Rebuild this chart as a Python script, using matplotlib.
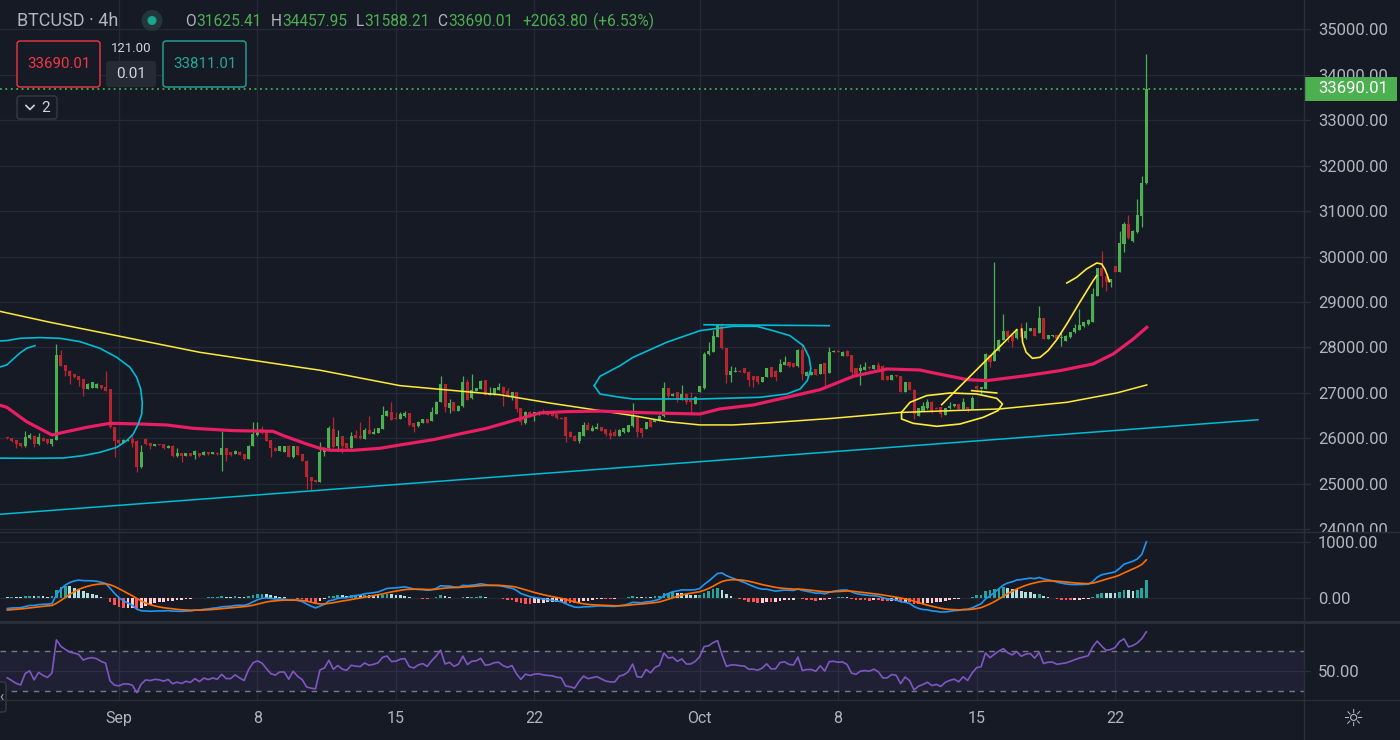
import numpy as np
import matplotlib
matplotlib.use("Agg")
import matplotlib.pyplot as plt
from matplotlib.patches import Rectangle, FancyBboxPatch, Circle
from matplotlib.transforms import blended_transform_factory, Bbox, TransformedBbox

plt.rcParams['font.family'] = ['Roboto', 'DejaVu Sans']

# BTCUSD 4h candles, index 0 = first visible bar
opens = [
    26024, 26002, 25966, 25899, 25826, 26002, 26061, 25877, 26017, 25988,
    25870, 25973, 27835, 27615, 27491, 27417, 27366, 27307, 27087, 27109,
    27117, 27175, 27124, 27087, 26244, 25973, 25899, 25944, 25988, 25951,
    25364, 25988, 25899, 25841, 25877, 25877, 25797, 25841, 25621, 25672,
    25621, 25672, 25635, 25672, 25635, 25694, 25665, 25680, 25635, 25782,
    25694, 25665, 25709, 25650, 25547, 25841, 26075, 26208, 26171, 25966,
    25797, 25731, 25709, 25841, 25584, 25826, 25650, 25511, 25144, 25086,
    25049, 25709, 25782, 26208, 25826, 26046, 25899, 25797, 26075, 26061,
    25988, 26193, 26098, 26120, 26208, 26501, 26589, 26442, 26427, 26486,
    26559, 26339, 26266, 26339, 26427, 26383, 26537, 26794, 27190, 26677,
    26794, 26611, 26706, 27234, 26882, 27051, 27087, 27278, 26955, 26955,
    27065, 27139, 27051, 26941, 27014, 26662, 26339, 26589, 26501, 26523,
    26603, 26589, 26589, 26530, 26457, 26464, 26134, 26061, 25951, 26061,
    26295, 26171, 26208, 26251, 26208, 26120, 26134, 26061, 26134, 26149,
    26266, 26501, 26222, 26208, 26413, 26354, 26391, 26486, 27102, 26941,
    27014, 26853, 26985, 26853, 26757, 27029, 27102, 27850, 27894, 28224,
    28495, 27982, 27395, 27454, 27491, 27542, 27469, 27366, 27366, 27249,
    27344, 27564, 27491, 27454, 27615, 27674, 27652, 27586, 27953, 27381,
    27400, 27527, 27417, 27659, 27439, 27894, 27931, 27821, 27931, 27835,
    27542, 27491, 27513, 27579, 27527, 27615, 27601, 27366, 27293, 27395,
    27366, 27029, 27234, 27073, 26501, 26611, 26663, 26809, 26677, 26685,
    26516, 26663, 26707, 26758, 26648, 26685, 26648, 27161, 27087, 27087,
    27836, 27711, 27931, 28173, 28371, 28276, 28202, 28408, 28202, 28364,
    28422, 28320, 28642, 28188, 28246, 28276, 28202, 28151, 28224, 28334,
    28393, 28466, 28510, 28569, 29141, 29742, 29583, 29434, 29786, 29655,
    30278, 30718, 30351, 30534, 30900, 31625.41]
highs = [
    26040, 26010, 25970, 25900, 26171, 26112, 26075, 26112, 26030, 25995,
    25995, 28070, 27953, 27620, 27495, 27420, 27370, 27310, 27220, 27250,
    27210, 27180, 27491, 27090, 26250, 25980, 25990, 25985, 26083, 25960,
    25855, 26000, 25905, 25880, 25880, 25880, 25845, 25845, 25782, 25680,
    25680, 25680, 25740, 25680, 25715, 25700, 25700, 25690, 26171, 25790,
    25700, 25740, 25715, 25655, 25845, 26354, 26370, 26262, 26180, 25970,
    25800, 25830, 25830, 25845, 25830, 25830, 25655, 25515, 25150, 25090,
    25914, 25800, 26281, 26464, 26193, 26050, 25905, 26134, 26193, 26354,
    26222, 26486, 26222, 26230, 26706, 26620, 26794, 26574, 26589, 26611,
    26565, 26345, 26375, 26435, 26432, 26684, 26815, 27366, 27195, 26867,
    26800, 26725, 27381, 27307, 27417, 27115, 27280, 27285, 27124, 27115,
    27212, 27145, 27102, 27020, 27020, 26668, 26595, 26595, 26580, 26595,
    26647, 26595, 26595, 26535, 26465, 26470, 26171, 26065, 26140, 26369,
    26369, 26295, 26339, 26255, 26212, 26208, 26208, 26200, 26230, 26300,
    26779, 26510, 26230, 26360, 26420, 26435, 26510, 27234, 27110, 26990,
    27020, 27183, 26990, 27029, 26941, 27150, 27909, 28129, 28393, 28517,
    28539, 27990, 27601, 27564, 27500, 27548, 27475, 27370, 27370, 27350,
    27548, 27570, 27495, 27747, 27821, 27680, 27658, 27967, 28077, 27475,
    27475, 27533, 27645, 27665, 28004, 27938, 27938, 27915, 27938, 27840,
    27548, 27637, 27689, 27585, 27620, 27674, 27607, 27372, 27400, 27400,
    27372, 27240, 27240, 27080, 26668, 26809, 26868, 26815, 26690, 26690,
    26670, 26794, 26765, 26765, 26883, 26690, 26941, 27170, 27095, 27870,
    27842, 29889, 28180, 28738, 28378, 28282, 28400, 28540, 28569, 28430,
    28428, 28921, 28648, 28282, 28282, 28282, 28334, 28268, 28340, 28518,
    28848, 28560, 28620, 29302, 29750, 30131, 29590, 29515, 29792, 30571,
    30754, 30915, 30580, 31267, 31781, 34457.95]
lows = [
    25990, 25914, 25782, 25804, 25811, 25990, 25811, 25860, 25940, 25880,
    25826, 25960, 27590, 27381, 27197, 27330, 27161, 26941, 27080, 27100,
    27110, 27090, 27040, 26230, 25584, 25880, 25890, 25935, 25804, 25254,
    25350, 25860, 25767, 25830, 25850, 25770, 25790, 25584, 25600, 25489,
    25615, 25615, 25547, 25600, 25630, 25640, 25660, 25640, 25291, 25511,
    25620, 25660, 25630, 25530, 25540, 25835, 26060, 26100, 25940, 25584,
    25720, 25725, 25700, 25580, 25575, 25630, 25500, 24888, 24851, 25030,
    25040, 25621, 25775, 25790, 25731, 25680, 25775, 25790, 26010, 25995,
    25980, 26090, 26090, 26110, 26200, 26495, 26405, 26420, 26420, 26480,
    26266, 26134, 26260, 26335, 26335, 26375, 26530, 26790, 26574, 26559,
    26605, 26600, 26700, 26850, 26875, 27045, 27080, 26950, 26950, 26950,
    27060, 26721, 26920, 26853, 26589, 26295, 26317, 26510, 26391, 26518,
    26530, 26510, 26495, 26437, 26420, 25914, 26020, 25945, 25899, 26055,
    26190, 26165, 26200, 26165, 26061, 25988, 26055, 26055, 26125, 26140,
    26260, 26024, 26024, 26200, 26240, 26350, 26385, 26480, 26867, 26935,
    26809, 26848, 26757, 26574, 26750, 27020, 27095, 27845, 27890, 28220,
    27975, 27220, 27234, 27450, 27450, 27435, 27161, 27124, 27190, 27244,
    27340, 27340, 27271, 27450, 27610, 27580, 27560, 27580, 27293, 27375,
    27390, 27390, 27410, 27161, 27435, 27890, 27890, 27815, 27815, 27322,
    27344, 27175, 27508, 27537, 27520, 27520, 27288, 27288, 27288, 27360,
    27024, 27024, 27068, 26427, 26495, 26605, 26655, 26560, 26640, 26465,
    26510, 26655, 26700, 26640, 26640, 26574, 26640, 27029, 26978, 27080,
    27564, 27705, 27925, 28168, 28129, 28004, 28196, 28218, 28196, 28358,
    28255, 28314, 28182, 28182, 28240, 28182, 28041, 28145, 28218, 28328,
    28388, 28460, 28505, 28563, 29135, 29324, 29251, 29324, 29660, 29650,
    30094, 30395, 30314, 30528, 30644, 31588.21]
closes = [
    26002, 25944, 25877, 25841, 26024, 26075, 25870, 26024, 25951, 25899,
    25988, 27835, 27600, 27483, 27381, 27344, 27293, 27087, 27197, 27234,
    27197, 27109, 27051, 26244, 25951, 25899, 25973, 25973, 25899, 25364,
    25694, 25870, 25826, 25877, 25855, 25782, 25841, 25621, 25672, 25606,
    25672, 25621, 25731, 25606, 25709, 25650, 25694, 25650, 25782, 25635,
    25635, 25731, 25635, 25547, 25841, 26090, 26171, 26112, 25951, 25782,
    25731, 25826, 25826, 25584, 25826, 25635, 25511, 25144, 25071, 25034,
    25709, 25797, 26222, 25804, 26024, 25841, 25782, 26061, 26017, 26002,
    26193, 26098, 26149, 26222, 26515, 26603, 26413, 26427, 26530, 26559,
    26295, 26244, 26369, 26427, 26339, 26574, 26809, 27190, 26684, 26779,
    26611, 26721, 27234, 26853, 27073, 27109, 27271, 26955, 27000, 27109,
    27139, 27000, 26926, 27014, 26647, 26354, 26589, 26515, 26574, 26589,
    26537, 26515, 26501, 26442, 26427, 26061, 26024, 25951, 26134, 26295,
    26193, 26222, 26251, 26171, 26090, 26061, 26061, 26193, 26222, 26296,
    26515, 26134, 26120, 26354, 26244, 26427, 26501, 27102, 26941, 26985,
    26853, 26977, 26809, 26809, 26919, 27146, 27857, 27931, 28246, 28495,
    27982, 27395, 27491, 27491, 27454, 27439, 27293, 27293, 27249, 27344,
    27542, 27344, 27344, 27637, 27674, 27586, 27564, 27953, 27417, 27469,
    27469, 27395, 27637, 27417, 27909, 27931, 27894, 27909, 27821, 27469,
    27417, 27542, 27564, 27542, 27615, 27527, 27293, 27293, 27395, 27366,
    27029, 27234, 27073, 26537, 26662, 26721, 26794, 26611, 26648, 26538,
    26663, 26721, 26758, 26648, 26794, 26648, 26883, 27087, 27124, 27858,
    27689, 27931, 28173, 28371, 28224, 28151, 28393, 28224, 28371, 28422,
    28261, 28642, 28188, 28276, 28276, 28188, 28224, 28261, 28334, 28422,
    28496, 28554, 28613, 29178, 29742, 29583, 29434, 29507, 29669, 30300,
    30718, 30402, 30571, 30915, 31626.21, 33690.01]

# date labels at bar index
tick_bars = [25, 56, 87, 118, 155, 186, 217, 248]
tick_labels = ['Sep', '8', '15', '22', 'Oct', '8', '15', '22']

# moving averages as drawn on the chart (bar, price)
ma_pink_bars = [-1.7, -0.1, 4.3, 10.0, 13.3, 17.8, 23.0, 29.7, 35.7, 41.6, 50.6, 59.5,
                61.8, 67.0, 70.0, 72.2, 77.4, 83.4, 87.9, 95.4, 101.3, 107.3, 113.3,
                119.2, 125.2, 132.7, 140.1, 147.6, 155.1, 159.5, 167.0, 174.5, 182.0,
                189.4, 196.9, 204.3, 207.4, 214.9, 219.3, 228.2, 235.7, 243.1, 247.6,
                252.1, 255.1]
ma_pink_vals = [26730, 26684, 26369, 26075, 26149, 26244, 26332, 26317, 26295, 26222,
                26171, 26156, 26061, 25877, 25782, 25738, 25738, 25782, 25855, 25973,
                26098, 26222, 26391, 26559, 26589, 26600, 26574, 26552, 26537, 26648,
                26735, 26904, 27073, 27366, 27527, 27505, 27440, 27293, 27271, 27381,
                27491, 27638, 27858, 28188, 28444]
ma_yellow_bars = [-1.7, 9.6, 43.1, 65.5, 70.0, 87.9, 110.3, 121.3, 132.7, 140.1, 147.7,
                  155.1, 162.5, 170.1, 184.8, 199.8, 222.2, 237.2, 248.4, 255.1]
ma_yellow_vals = [28796, 28554, 27894, 27564, 27500, 27161, 26960, 26780, 26611, 26501,
                  26369, 26296, 26296, 26340, 26442, 26570, 26648, 26794, 27000, 27176]
trend_bars = [-1.7, 280.0]
trend_vals = [24330, 26410]

# hand drawings (bar, price)
cyan_ring_left = [(-2.75, 28140), (-0.13, 28151), (2.84, 28202), (7.32, 28217), (11.8, 28202),
                  (16.27, 28129), (20.75, 27982), (24.49, 27784), (27.47, 27564), (28.97, 27344),
                  (29.86, 27087), (30.22, 26794), (30.09, 26537), (29.33, 26317), (28.21, 26097),
                  (26.73, 25951), (24.49, 25804), (20.75, 25694), (17.01, 25621), (12.54, 25569),
                  (5.82, 25562), (-0.13, 25565), (-2.75, 25565)]
cyan_arc_left = [(-1.7, 27570), (-0.13, 27615), (1.34, 27747), (2.84, 27879), (4.34, 27982),
                 (6.2, 28041)]
cyan_ring_mid = [(131.4, 27161), (132.7, 27366), (137.2, 27601), (140.1, 27784), (147.6, 28114),
                 (155.1, 28371), (162.5, 28466), (167.8, 28466), (171.4, 28371), (175.2, 28261),
                 (178.2, 28041), (179.5, 27784), (179.9, 27527), (179.1, 27271), (177.5, 27087),
                 (174.5, 26977), (168.5, 26904), (155.1, 26867), (140.1, 26867), (137.2, 26904),
                 (132.7, 26977), (131.4, 27161)]
cyan_hline = [(156, 28500), (184, 28480)]
yellow_ring = [(200.2, 26574), (202.1, 26794), (205.8, 26941), (211.1, 26999), (217.0, 26977),
               (221.5, 26882), (222.8, 26757), (221.8, 26611), (218.5, 26464), (213.3, 26317),
               (208.1, 26266), (202.8, 26332), (200.2, 26427), (200.2, 26574)]
yellow_ramp = [(209.2, 26743), (226.0, 28393)]
yellow_dash = [(215.9, 27051), (221.5, 26999)]
yellow_hook = [(227.1, 28407), (227.3, 28114), (228.1, 27894), (229.5, 27762), (231.2, 27784),
               (233.0, 27931), (234.9, 28165), (237.2, 28517), (240.1, 28994), (243.1, 29471),
               (243.9, 29581)]
yellow_arc = [(237.2, 29419), (239.4, 29544), (241.6, 29727), (243.9, 29859), (245.0, 29837),
              (245.7, 29727), (246.3, 29581), (246.7, 29449)]

# indicator starting states (history before the first visible bar)
macd_seed = (25995, 26190, -215)
rsi_seed = (32, 42)

BG = '#161a25'
GRID = '#252935'
SEP = '#2a2e39'
TXT = '#b2b5be'
UP = '#4caf50'
DOWN = '#b8252e'
PINK = '#e91e63'
YEL = '#ffeb3b'
CYAN = '#00bcd4'

o = np.array(opens, float)
h = np.array(highs, float)
l = np.array(lows, float)
c = np.array(closes, float)
x = np.arange(len(c))


def ema(values, length, seed):
    k = 2.0 / (length + 1)
    e = seed
    out = []
    for v in values:
        e = e + k * (v - e)
        out.append(e)
    return np.array(out)


macd = ema(c, 12, macd_seed[0]) - ema(c, 26, macd_seed[1])
signal = ema(macd, 9, macd_seed[2])
hist = macd - signal

g, ls = rsi_seed
rsi = []
prev = c[0]
for v in c:
    d = v - prev
    g = (g * 13 + max(d, 0)) / 14
    ls = (ls * 13 + max(-d, 0)) / 14
    rsi.append(100 - 100 / (1 + g / ls))
    prev = v
rsi = np.array(rsi)

fig = plt.figure(figsize=(14, 7.4), dpi=100, facecolor=BG)
ax = fig.add_axes([0, 207.7 / 740, 1304 / 1400, 532.3 / 740])
ax_m = fig.add_axes([0, 119 / 740, 1304 / 1400, 88 / 740])
ax_r = fig.add_axes([0, 40 / 740, 1304 / 1400, 78 / 740])

XL = (-1.634, 290.3)
for a in (ax, ax_m, ax_r):
    a.set_facecolor(BG)
    a.set_xlim(*XL)
    for s in a.spines.values():
        s.set_visible(False)
    a.set_xticks(tick_bars)
    a.yaxis.tick_right()
    a.tick_params(axis='x', length=0, labelbottom=False)
    a.tick_params(axis='y', length=4.5, width=1, color=SEP, pad=5.5,
                  labelsize=12, labelcolor=TXT)
    a.grid(True, color=GRID, lw=1)
    a.set_axisbelow(True)

ax_r.tick_params(axis='x', labelbottom=True, pad=8, labelsize=11.5, labelcolor=TXT)
ax_r.set_xticklabels(tick_labels)

# ---- price panel
ax.set_ylim(23934, 35645)
ax.set_yticks(range(24000, 35001, 1000))
ax.set_yticklabels([f'{v:.2f}' for v in range(24000, 35001, 1000)])
clip = TransformedBbox(Bbox([[0, 207.7 / 740], [1, 1]]), fig.transFigure)
for lab in ax.get_yticklabels():
    lab.set_clip_box(clip)
    lab.set_clip_on(True)

col = np.where(c >= o, UP, DOWN)
ax.vlines(x, l, h, colors=col, lw=0.9, zorder=3)
ax.bar(x, np.maximum(np.abs(c - o), 25), bottom=np.minimum(o, c), width=0.68,
       color=col, linewidth=0, zorder=4)

ax.plot(ma_yellow_bars, ma_yellow_vals, color=YEL, lw=1.1, zorder=5)
ax.plot(ma_pink_bars, ma_pink_vals, color=PINK, lw=2.3, zorder=5)
ax.plot(trend_bars, trend_vals, color=CYAN, lw=1.1, zorder=5)

for pts, color in [(cyan_ring_left, CYAN), (cyan_arc_left, CYAN), (cyan_ring_mid, CYAN),
                   (cyan_hline, CYAN), (yellow_ring, YEL), (yellow_ramp, YEL),
                   (yellow_dash, YEL), (yellow_hook, YEL), (yellow_arc, YEL)]:
    px, py = zip(*pts)
    ax.plot(px, py, color=color, lw=1.2, zorder=6, solid_joinstyle='round')

last = c[-1]
ax.axhline(last, color='#43b049', lw=1.3, ls=(0, (1, 2)), zorder=6)
bt = blended_transform_factory(ax.transAxes, ax.transData)
ax.add_patch(Rectangle((1.0, last - 264), 93 / 1304, 528, transform=bt, facecolor=UP,
                       edgecolor='none', clip_on=False, zorder=7))
ax.text(1.0 + 14 / 1304, last, f'{last:.2f}', transform=bt, color='white', fontsize=12,
        va='center', ha='left', zorder=8, clip_on=False)

# ---- MACD panel
ax_m.set_ylim(-401, 1154)
ax_m.set_yticks([0, 1000])
ax_m.set_yticklabels(['0.00', '1000.00'])
hcol = []
for i, v in enumerate(hist):
    p = hist[i - 1] if i > 0 else v
    if v >= 0:
        hcol.append('#26a69a' if v > p else '#b2dfdb')
    else:
        hcol.append('#ffcdd2' if v > p else '#ff5252')
ax_m.bar(x, hist, width=0.62, color=hcol, linewidth=0, zorder=3)
ax_m.plot(x, macd, color='#2196f3', lw=1.2, zorder=4)
ax_m.plot(x, signal, color='#ff6d00', lw=1.2, zorder=4)

# ---- RSI panel
ax_r.set_ylim(21.4, 98.3)
ax_r.set_yticks([50])
ax_r.set_yticklabels(['50.00'])
ax_r.axhspan(30, 70, color='#7e57c2', alpha=0.1, lw=0, zorder=1)
for lv in (30, 70):
    ax_r.axhline(lv, color='#787b86', lw=1, ls=(0, (4, 4)), zorder=2)
ax_r.plot(x, rsi, color='#7e57c2', lw=1.2, zorder=4)

# ---- overlay: separators and header widgets (pixel coords)
ui = fig.add_axes([0, 0, 1, 1], zorder=10)
ui.set_xlim(0, 1400)
ui.set_ylim(740, 0)
ui.set_axis_off()
ui.patch.set_alpha(0)
ui.plot([0, 1400], [532.3, 532.3], color=SEP, lw=1)
ui.plot([0, 1400], [621.5, 621.5], color=SEP, lw=2.2)
ui.plot([0, 1400], [700, 700], color=SEP, lw=1)
ui.plot([1304, 1304], [0, 740], color=SEP, lw=1)

ui.text(17, 21, 'BTCUSD · 4h', color=TXT, fontsize=13, va='center', ha='left')
ui.add_patch(Circle((152, 20.5), 10.5, facecolor='#22363b', edgecolor='none'))
ui.add_patch(Circle((152, 20.5), 4.5, facecolor='#1aa58f', edgecolor='none'))
parts = [(185, 'O', TXT), (196, '31625.41', UP), (271, 'H', TXT), (282, '34457.95', UP),
         (356, 'L', TXT), (364, '31588.21', UP), (437, 'C', TXT), (448, '33690.01', UP),
         (522, '+2063.80', UP), (593, '(+6.53%)', UP)]
for px_, s, colr in parts:
    ui.text(px_, 21, s, color=colr, fontsize=11.2, va='center', ha='left')

ui.add_patch(FancyBboxPatch((17, 41), 83, 46, boxstyle='round,pad=0,rounding_size=3',
                            facecolor=BG, edgecolor='#f23645', lw=1))
ui.text(58.5, 64, '33690.01', color='#f23645', fontsize=10.8, ha='center', va='center')
ui.text(131, 48, '121.00', color='#d1d4dc', fontsize=9.5, ha='center', va='center')
ui.add_patch(FancyBboxPatch((106, 61), 50, 26, boxstyle='round,pad=0,rounding_size=3',
                            facecolor='#262a35', edgecolor='none'))
ui.text(131, 74, '0.01', color='#d1d4dc', fontsize=11, ha='center', va='center')
ui.add_patch(FancyBboxPatch((163, 41), 83, 46, boxstyle='round,pad=0,rounding_size=3',
                            facecolor=BG, edgecolor='#26a69a', lw=1))
ui.text(204.5, 64, '33811.01', color='#26a69a', fontsize=10.8, ha='center', va='center')

ui.add_patch(FancyBboxPatch((17, 96), 40, 23, boxstyle='round,pad=0,rounding_size=3',
                            facecolor=BG, edgecolor='#363a45', lw=1))
ui.plot([26, 30, 34], [105.5, 109.5, 105.5], color='#d1d4dc', lw=1.2)
ui.text(41, 108, '2', color='#d1d4dc', fontsize=11, ha='left', va='center')

ui.add_patch(FancyBboxPatch((-4, 682), 10, 30, boxstyle='round,pad=0,rounding_size=3',
                            facecolor=BG, edgecolor='#363a45', lw=1))
ui.text(1, 697, '‹', color=TXT, fontsize=10, ha='center', va='center')
ui.text(1353, 719, '☼', color=TXT, fontsize=17, ha='center', va='center',
        family=['DejaVu Sans'])

fig.savefig('out.png', dpi=100, facecolor=BG)
